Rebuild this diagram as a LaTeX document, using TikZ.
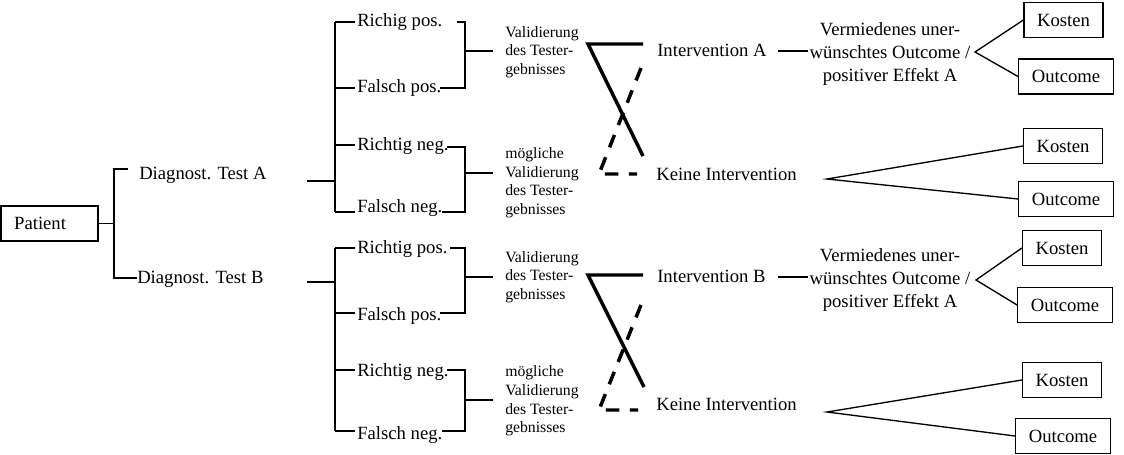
\documentclass[tikz,border=0pt]{standalone}
\usepackage{fontspec}
\setmainfont{Liberation Serif}
\begin{document}
\begin{tikzpicture}[x=0.75pt,y=-0.75pt,
  lbl/.style={font=\fontsize{14}{18}\selectfont, inner sep=0pt, anchor=base west},
  sml/.style={font=\fontsize{11.8}{13.9}\selectfont, inner sep=0pt, align=left, anchor=west},
  verm/.style={font=\fontsize{14}{17.5}\selectfont, inner sep=0pt, align=center},
  cbox/.style={draw, line width=0.9pt, font=\fontsize{14}{18}\selectfont, inner sep=0pt, minimum height=26.25pt},
  kbox/.style={cbox, minimum width=59.25pt},
  obox/.style={cbox, minimum width=71pt},
  ln/.style={line width=1pt},
  solidx/.style={line width=2.6pt},
  dashx/.style={line width=2.6pt, dash pattern=on 10pt off 8pt}]
\useasboundingbox (0,0) rectangle (1124,454);

% Patient
\node[draw, line width=0.9pt, font=\fontsize{14}{18}\selectfont, minimum width=72.75pt,
  minimum height=26.25pt, text width=53pt, inner xsep=9.75pt, inner ysep=0pt, align=left] (pat) at (49.5,223.5) {Patient};
\coordinate (j0) at (114,223.5);
\coordinate (jA) at (114,169);
\coordinate (jB) at (114,278);
\coordinate (tA) at (128,169);
\coordinate (tB) at (137,278);
\draw[ln] (pat.east) -- (j0);
\draw[ln] (tA) -- (jA) -- (jB) -- (tB);
\node[lbl] (dA) at (139,179) {Diagnost. Test A};
\node[lbl] (dB) at (137,283) {Diagnost. Test B};

% ---------- Test A group ----------
\coordinate (aL) at (307,181);
\coordinate (aJ) at (335,181);
\draw[ln] (aL) -- (aJ);
\coordinate (a1) at (335,22);  \coordinate (a1r) at (355,22);
\coordinate (a2) at (335,88);  \coordinate (a2r) at (355,88);
\coordinate (a3) at (335,145); \coordinate (a3r) at (355,145);
\coordinate (a4) at (335,212); \coordinate (a4r) at (355,212);
\draw[ln] (a1) -- (a4);
\draw[ln] (a1) -- (a1r);
\draw[ln] (a2) -- (a2r);
\draw[ln] (a3) -- (a3r);
\draw[ln] (a4) -- (a4r);
\node[lbl] (rpA) at (357,26) {Richig pos.};
\node[lbl] (fpA) at (357,92) {Falsch pos.};
\node[lbl] (rnA) at (357,150) {Richtig neg.};
\node[lbl] (fnA) at (357,212) {Falsch neg.};
% right brackets
\coordinate (b1l) at (457,22);  \coordinate (b1) at (465,22);
\coordinate (b2l) at (440,88);  \coordinate (b2) at (465,88);
\coordinate (bm1) at (465,51);  \coordinate (bm1r) at (493,51);
\draw[ln] (b1l) -- (b1) -- (b2) -- (b2l);
\draw[ln] (bm1) -- (bm1r);
\coordinate (b3l) at (447,147); \coordinate (b3) at (465,147);
\coordinate (b4l) at (442,212); \coordinate (b4) at (465,212);
\coordinate (bm2) at (465,173); \coordinate (bm2r) at (493,173);
\draw[ln] (b3l) -- (b3) -- (b4) -- (b4l);
\draw[ln] (bm2) -- (bm2r);
\node[sml] (vA) at (505,52) {Validierung\\des Tester-\\gebnisses};
\node[sml] (mA) at (505,182.5) {mögliche\\Validierung\\des Tester-\\gebnisses};
% cross
\coordinate (xA1) at (588,44); \coordinate (xA2) at (643,44); \coordinate (xA3) at (643,156);
\coordinate (xA4) at (641,68); \coordinate (xA5) at (599,174); \coordinate (xA6) at (637,174);
\draw[solidx] (xA2) -- (xA1) -- (xA3);
\draw[dashx] (xA4) -- (xA5) -- (xA6);
\node[lbl] (iA) at (657,56) {Intervention A};
\node[lbl] (kA) at (656,180) {Keine Intervention};
\coordinate (iAr) at (778,51); \coordinate (vmAl) at (808,51);
\draw[ln] (iAr) -- (vmAl);
\node[verm] (vmA) at (890,54) {Vermiedenes uner-\\wünschtes Outcome /\\positiver Effekt A};
\coordinate (brA) at (975,52);
\node[kbox] (KA) at (1063.5,20) {Kosten};
\node[obox] (OA) at (1066,76.5) {Outcome};
\draw[ln] (KA.west) -- (brA) -- (OA.west);
\coordinate (brKA) at (827,179);
\node[kbox] (KA2) at (1063,146) {Kosten};
\node[obox] (OA2) at (1066,199) {Outcome};
\draw[ln] (KA2.west) -- (brKA) -- (OA2.west);

% ---------- Test B group ----------
\coordinate (cL) at (307,282);
\coordinate (cJ) at (335,282);
\draw[ln] (cL) -- (cJ);
\coordinate (c1) at (335,248); \coordinate (c1r) at (355,248);
\coordinate (c2) at (335,313); \coordinate (c2r) at (355,313);
\coordinate (c3) at (335,370); \coordinate (c3r) at (355,370);
\coordinate (c4) at (335,431); \coordinate (c4r) at (355,431);
\draw[ln] (c1) -- (c4);
\draw[ln] (c1) -- (c1r);
\draw[ln] (c2) -- (c2r);
\draw[ln] (c3) -- (c3r);
\draw[ln] (c4) -- (c4r);
\node[lbl] (rpB) at (357,253) {Richtig pos.};
\node[lbl] (fpB) at (357,320) {Falsch pos.};
\node[lbl] (rnB) at (357,376) {Richtig neg.};
\node[lbl] (fnB) at (357,439) {Falsch neg.};
\coordinate (d1l) at (450,248); \coordinate (d1) at (465,248);
\coordinate (d2l) at (440,313); \coordinate (d2) at (465,313);
\coordinate (dm1) at (465,277); \coordinate (dm1r) at (493,277);
\draw[ln] (d1l) -- (d1) -- (d2) -- (d2l);
\draw[ln] (dm1) -- (dm1r);
\coordinate (d3l) at (447,370); \coordinate (d3) at (465,370);
\coordinate (d4l) at (442,431); \coordinate (d4) at (465,431);
\coordinate (dm2) at (465,400); \coordinate (dm2r) at (493,400);
\draw[ln] (d3l) -- (d3) -- (d4) -- (d4l);
\draw[ln] (dm2) -- (dm2r);
\node[sml] (vB) at (505,277) {Validierung\\des Tester-\\gebnisses};
\node[sml] (mB) at (505,401) {mögliche\\Validierung\\des Tester-\\gebnisses};
\coordinate (xB1) at (588,275); \coordinate (xB2) at (643,275); \coordinate (xB3) at (644,387);
\coordinate (xB4) at (641,305); \coordinate (xB5) at (599,410); \coordinate (xB6) at (638,410);
\draw[solidx] (xB2) -- (xB1) -- (xB3);
\draw[dashx] (xB4) -- (xB5) -- (xB6);
\node[lbl] (iB) at (657,282) {Intervention B};
\node[lbl] (kB) at (656,410) {Keine Intervention};
\coordinate (iBr) at (778,277); \coordinate (vmBl) at (808,277);
\draw[ln] (iBr) -- (vmBl);
\node[verm] (vmB) at (890,280) {Vermiedenes uner-\\wünschtes Outcome /\\positiver Effekt A};
\coordinate (brB) at (976,280);
\node[kbox] (KB) at (1062,248) {Kosten};
\node[obox] (OB) at (1065,305) {Outcome};
\draw[ln] (KB.west) -- (brB) -- (OB.west);
\coordinate (brKB) at (827,412);
\node[kbox] (KB2) at (1062,380) {Kosten};
\node[obox] (OB2) at (1063,436) {Outcome};
\draw[ln] (KB2.west) -- (brKB) -- (OB2.west);
\end{tikzpicture}
\end{document}
